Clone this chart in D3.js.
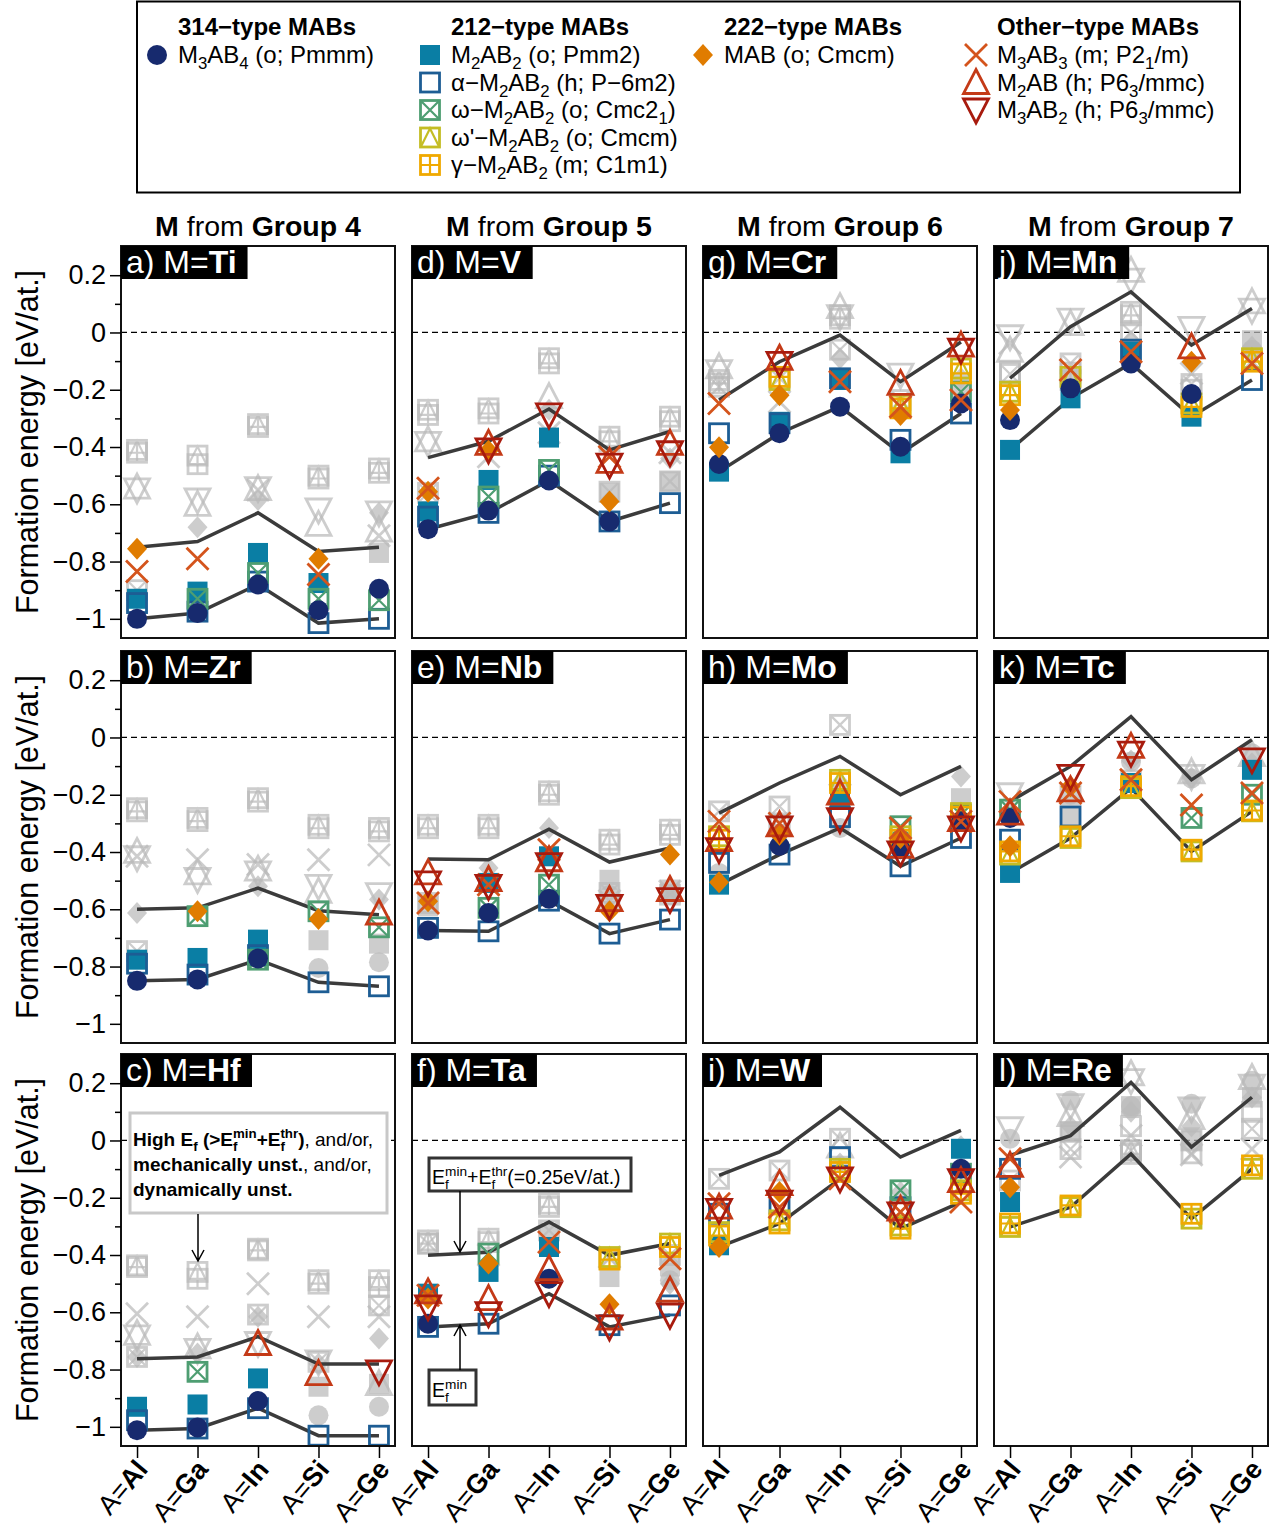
<!DOCTYPE html>
<html>
<head>
<meta charset="utf-8">
<script src="https://cdn.jsdelivr.net/npm/d3@7"></script>
<style>
body { margin: 0; background: #fff; }
text { font-family: "Liberation Sans", Arial, Helvetica, sans-serif; }
</style>
</head>
<body>
<svg id="chart" width="1273" height="1530"></svg>
<script>
// categories
var anions = ["Al", "Ga", "In", "Si", "Ge"];
var metals = ["Ti", "Zr", "Hf", "V", "Nb", "Ta", "Cr", "Mo", "W", "Mn", "Tc", "Re"];
var letters = ["a", "b", "c", "d", "e", "f", "g", "h", "i", "j", "k", "l"];
var groups = ["Group 4", "Group 5", "Group 6", "Group 7"];
var yTicks = [-1, -0.8, -0.6, -0.4, -0.2, 0, 0.2];
var yMinor = [-0.9, -0.7, -0.5, -0.3, -0.1, 0.1];
var thr = 0.25;

// formation energies [eV/at.], one row per panel a..l, columns Al Ga In Si Ge
// mask: 1 = stable (coloured), 0 = unstable / high Ef (grey), - = not shown
var m314 = [
  [-1.0, -0.98, -0.88, -0.97, -0.895], [-0.85, -0.845, -0.772, -0.805, -0.785], [-1.012, -1.002, -0.91, -0.96, -0.93],
  [-0.687, -0.622, -0.517, -0.66, null], [-0.674, -0.613, -0.563, -0.55, -0.55], [-0.64, null, -0.483, null, -0.488],
  [-0.459, -0.352, -0.259, -0.399, -0.248], [-0.473, -0.378, -0.316, -0.39, -0.293], [null, null, null, null, -0.099],
  [-0.306, -0.195, -0.108, -0.215, -0.06], [-0.281, -0.2, -0.084, -0.143, -0.055], [0.006, 0.14, 0.12, 0.128, 0.209]];
var m314ok = ["11111", "11100", "11100", "1111-", "11100", "1-1-0", "11111", "01011", "----1", "11110", "10000", "00000"];

var m212o = [
  [-0.93, -0.905, -0.77, -0.875, -0.77], [-0.776, -0.77, -0.706, -0.708, -0.72], [-0.93, -0.922, -0.831, -0.86, -0.85],
  [-0.625, -0.515, -0.367, -0.56, -0.52], [-0.59, -0.508, -0.415, -0.497, -0.531], [-0.535, -0.459, -0.372, -0.477, -0.44],
  [-0.486, -0.312, -0.166, -0.422, -0.2], [-0.514, null, -0.217, null, -0.212], [-0.366, null, null, null, -0.029],
  [-0.41, -0.23, -0.067, -0.294, -0.027], [-0.473, -0.276, -0.159, null, -0.113], [-0.215, 0.03, 0.12, 0.0, 0.15]];
var m212ook = ["11110", "11100", "11100", "11100", "01100", "11100", "11110", "1-1-0", "1---1", "11110", "101-1", "10000"];

var m212a = [
  [-0.945, -0.975, -0.87, -1.015, -1.0], [-0.79, -0.828, -0.76, -0.855, -0.869], [-0.977, -1.006, -0.935, -1.031, -1.031],
  [-0.643, -0.63, -0.5, -0.66, -0.596], [-0.665, -0.677, -0.57, -0.685, -0.636], [-0.651, -0.64, null, -0.645, -0.576],
  [-0.352, -0.317, -0.16, -0.375, -0.283], [-0.438, -0.409, -0.278, -0.45, -0.351], [-0.256, -0.221, -0.058, -0.233, null],
  [-0.137, -0.14, -0.06, -0.2, -0.166], [-0.357, -0.276, null, null, null], [-0.099, 0.03, 0.05, 0.0, 0.1]];
var m212aok = ["11111", "11111", "11111", "11111", "11111", "11-11", "11111", "11111", "1111-", "00101", "11---", "10000"];

var m212w = [
  [-0.9, -0.93, -0.84, -0.93, -0.935], [-0.746, -0.624, -0.776, -0.607, -0.663], [-0.756, -0.808, -0.608, -0.773, -0.576],
  [-0.56, -0.573, -0.48, -0.556, -0.52], [-0.578, -0.595, -0.514, -0.543, -0.549], [-0.36, -0.395, -0.314, -0.413, -0.4],
  [-0.19, -0.16, -0.06, -0.236, -0.207], [-0.258, -0.241, 0.044, -0.31, -0.27], [-0.134, -0.105, 0.006, -0.174, -0.116],
  [-0.145, -0.108, 0.0, -0.18, -0.1], [-0.252, -0.2, -0.15, -0.281, -0.2], [-0.14, -0.03, -0.035, -0.045, 0.041]];
var m212wok = ["01111", "01111", "01000", "01100", "01100", "01000", "00001", "00011", "00011", "00000", "10011", "00000"];

var m212wp = [
  [-0.41, -0.43, -0.32, -0.5, -0.475], [-0.247, -0.281, -0.212, -0.305, -0.316], [-0.436, -0.459, -0.378, -0.488, -0.488],
  [-0.27, -0.265, -0.09, -0.364, -0.294], [-0.305, -0.305, -0.188, -0.357, -0.322], [-0.349, -0.343, -0.221, -0.407, -0.36],
  [-0.166, -0.166, 0.06, -0.253, -0.126], [-0.345, -0.3, -0.148, -0.345, -0.264], [-0.32, -0.279, -0.099, -0.297, -0.174],
  [-0.207, -0.155, 0.072, -0.248, -0.09], [-0.409, -0.351, -0.177, -0.398, -0.258], [-0.302, -0.233, -0.035, -0.273, -0.099]];
var m212wpok = ["00000", "00000", "00000", "00000", "00000", "00011", "01011", "10111", "11111", "11011", "11111", "11011"];

var m212g = [
  [-0.42, -0.46, -0.33, -0.51, -0.49], [-0.258, -0.292, -0.224, -0.317, -0.328], [-0.442, -0.483, -0.384, -0.5, -0.512],
  [-0.288, -0.283, -0.108, -0.38, -0.31], [-0.317, -0.317, -0.2, -0.374, -0.34], [-0.36, -0.355, -0.232, -0.416, -0.372],
  [-0.178, -0.155, 0.048, -0.265, -0.143], [-0.357, -0.306, -0.159, -0.357, -0.276], [-0.332, -0.29, -0.11, -0.308, -0.186],
  [-0.219, -0.166, 0.06, -0.26, -0.102], [-0.398, -0.345, -0.17, -0.392, -0.255], [-0.29, -0.227, -0.047, -0.256, -0.087]];
var m212gok = ["00000", "00000", "00000", "00000", "00000", "00011", "01011", "10111", "11111", "10011", "11111", "11011"];

var m222 = [
  [-0.755, -0.68, -0.585, -0.79, -0.63], [-0.613, -0.607, -0.52, -0.634, -0.566], [-0.756, -0.744, -0.616, -0.78, -0.692],
  [-0.556, -0.413, -0.27, -0.59, -0.44], [-0.572, -0.456, -0.316, -0.607, -0.409], [-0.552, -0.43, -0.314, -0.572, -0.5],
  [-0.401, -0.219, -0.09, -0.288, -0.16], [-0.506, -0.34, -0.16, -0.351, -0.136], [-0.372, -0.18, -0.08, -0.18, -0.02],
  [-0.271, -0.15, -0.03, -0.102, -0.05], [-0.38, -0.171, -0.08, -0.14, -0.09], [-0.163, 0.05, 0.1, 0.05, 0.15]];
var m222ok = ["10010", "01010", "00000", "11010", "10011", "11010", "11010", "11010", "11000", "10010", "11000", "10000"];

var m313 = [
  [-0.835, -0.79, -0.55, -0.845, -0.71], [-0.415, -0.427, -0.444, -0.427, -0.41], [-0.605, -0.616, -0.5, -0.616, -0.616],
  [-0.544, -0.434, -0.35, -0.434, -0.42], [-0.578, -0.514, -0.392, -0.57, -0.537], [-0.541, -0.4, -0.355, -0.407, -0.413],
  [-0.248, -0.242, -0.172, -0.259, -0.236], [-0.293, -0.3, -0.2, -0.316, -0.293], [-0.221, -0.233, -0.134, -0.25, -0.215],
  [-0.038, -0.131, -0.067, -0.143, -0.108], [-0.224, -0.194, -0.148, -0.236, -0.194], [-0.064, -0.058, 0.017, -0.05, -0.03]];
var m313ok = ["11010", "00000", "00000", "10010", "11100", "10101", "10111", "11011", "11111", "01101", "11111", "10000"];

var m21 = [
  [-0.54, -0.6, -0.545, -0.67, -0.69], [-0.398, -0.473, -0.46, -0.537, -0.613], [-0.674, -0.721, -0.709, -0.814, -0.849],
  [-0.375, -0.387, -0.224, -0.45, -0.387], [-0.473, -0.496, -0.427, -0.566, -0.531], [-0.529, -0.552, -0.448, -0.62, -0.523],
  [-0.12, -0.09, 0.09, -0.178, -0.044], [-0.357, -0.305, -0.194, -0.38, -0.287], [-0.233, -0.151, -0.02, -0.24, -0.14],
  [-0.062, 0.031, 0.217, -0.05, 0.107], [-0.264, -0.183, -0.031, -0.12, -0.06], [-0.087, 0.09, 0.233, 0.08, 0.22]];
var m21ok = ["00000", "00001", "00110", "01011", "11111", "11111", "01011", "11111", "11011", "00010", "11100", "10000"];

var m32 = [
  [-0.55, -0.585, -0.545, -0.62, -0.63], [-0.42, -0.496, -0.473, -0.52, -0.549], [-0.686, -0.733, -0.709, -0.773, -0.808],
  [-0.387, -0.41, -0.288, -0.463, -0.42], [-0.508, -0.52, -0.444, -0.59, -0.566], [-0.581, -0.605, -0.535, -0.651, -0.61],
  [-0.137, -0.108, 0.055, -0.149, -0.062], [-0.392, -0.316, -0.287, -0.403, -0.316], [-0.244, -0.215, -0.134, -0.256, -0.14],
  [-0.015, 0.043, 0.183, 0.014, 0.078], [-0.2, -0.136, -0.055, -0.136, -0.078], [0.041, 0.122, 0.209, 0.11, 0.19]];
var m32ok = ["00000", "00000", "00001", "01111", "11111", "11111", "01001", "11111", "11111", "00000", "01101", "00000"];

var structures = [
  { label: "M_{3}AB_{4} (o; Pmmm)", shape: "circle", color: "#172a6e", values: m314, ok: m314ok },
  { label: "M_{2}AB_{2} (o; Pmm2)", shape: "fsq", color: "#0a7ea4", values: m212o, ok: m212ook },
  { label: "α−M_{2}AB_{2} (h; P−6m2)", shape: "osq", color: "#1d5d94", values: m212a, ok: m212aok },
  { label: "ω−M_{2}AB_{2} (o; Cmc2_{1})", shape: "xsq", color: "#4e9e72", values: m212w, ok: m212wok },
  { label: "ω'−M_{2}AB_{2} (o; Cmcm)", shape: "tsq", color: "#c4bd24", values: m212wp, ok: m212wpok },
  { label: "γ−M_{2}AB_{2} (m; C1m1)", shape: "psq", color: "#f0a900", values: m212g, ok: m212gok },
  { label: "MAB (o; Cmcm)", shape: "diam", color: "#e07c00", values: m222, ok: m222ok },
  { label: "M_{3}AB_{3} (m; P2_{1}/m)", shape: "x", color: "#d4541c", values: m313, ok: m313ok },
  { label: "M_{2}AB (h; P6_{3}/mmc)", shape: "tup", color: "#c43a17", values: m21, ok: m21ok },
  { label: "M_{3}AB_{2} (h; P6_{3}/mmc)", shape: "tdn", color: "#a81b0e", values: m32, ok: m32ok }
];
var drawOrder = [1, 2, 3, 4, 5, 0, 6, 7, 8, 9];

var legendCols = [
  { title: "314−type MABs", x: 178, items: [0] },
  { title: "212−type MABs", x: 451, items: [1, 2, 3, 4, 5] },
  { title: "222−type MABs", x: 724, items: [6] },
  { title: "Other−type MABs", x: 997, items: [7, 8, 9] }
];

var grey = "#bababa";
var colX = [121, 412, 703, 994];
var rowY = [246, 651, 1054];
var pw = 274, ph = 392;

var svg = d3.select("#chart");

// small markup: _{sub} ^{sup}, ** toggles bold
function rich(sel, str, fs) {
  var parts = str.split(/(\*\*|_\{[^}]*\}|\^\{[^}]*\})/).filter(function(s) { return s !== ""; });
  var cur = 0, lastSub = null, bold = false;
  parts.forEach(function(p) {
    if (p === "**") { bold = !bold; return; }
    var kind = "n", t = p;
    if (p.indexOf("_{") === 0) { kind = "sub"; t = p.slice(2, -1); }
    else if (p.indexOf("^{") === 0) { kind = "sup"; t = p.slice(2, -1); }
    var target = kind === "sub" ? fs * 0.25 : kind === "sup" ? -fs * 0.4 : 0;
    var ts = sel.append("tspan").attr("dy", target - cur).text(t);
    if (kind !== "n") ts.attr("font-size", fs * 0.7);
    if (bold) ts.attr("font-weight", "bold");
    if (kind === "sup" && lastSub) ts.attr("dx", -lastSub.node().getComputedTextLength());
    lastSub = kind === "sub" ? ts : null;
    cur = target;
  });
}

function marker(g, shape, x, y, col, isGrey) {
  var c = isGrey ? grey : col;
  var m = g.append("g")
    .attr("transform", "translate(" + x + "," + y + ")")
    .attr("opacity", isGrey ? 0.72 : 1);
  var sw = 2.8;
  if (shape === "circle") {
    m.append("circle").attr("r", 10).attr("fill", c);
  } else if (shape === "fsq") {
    m.append("rect").attr("x", -10).attr("y", -10).attr("width", 20).attr("height", 20).attr("fill", c);
  } else if (shape === "diam") {
    m.append("path").attr("d", "M0,-11L10,0L0,11L-10,0Z").attr("fill", c);
  } else if (shape === "x") {
    m.append("path").attr("d", "M-11,-11L11,11M11,-11L-11,11").attr("stroke", c).attr("stroke-width", sw).attr("fill", "none");
  } else if (shape === "tup") {
    m.append("path").attr("d", "M0,-13L12.5,11L-12.5,11Z").attr("stroke", c).attr("stroke-width", sw).attr("fill", "none");
  } else if (shape === "tdn") {
    m.append("path").attr("d", "M0,13L12.5,-11L-12.5,-11Z").attr("stroke", c).attr("stroke-width", sw).attr("fill", "none");
  } else {
    m.append("rect").attr("x", -9.5).attr("y", -9.5).attr("width", 19).attr("height", 19)
      .attr("fill", "none").attr("stroke", c).attr("stroke-width", sw);
    var inner = { xsq: "M-9,-9L9,9M9,-9L-9,9", tsq: "M-9,9L0,-9L9,9", psq: "M0,-9V9M-9,0H9" }[shape];
    if (inner) m.append("path").attr("d", inner).attr("stroke", c).attr("stroke-width", 2.2).attr("fill", "none");
  }
}

// legend
svg.append("rect").attr("x", 137).attr("y", 1.5).attr("width", 1103).attr("height", 191)
  .attr("fill", "none").attr("stroke", "#000").attr("stroke-width", 2);
legendCols.forEach(function(lc) {
  svg.append("text").attr("x", lc.x).attr("y", 35).attr("font-size", 24).attr("font-weight", "bold").text(lc.title);
  lc.items.forEach(function(si, k) {
    var s = structures[si];
    var cy = 55 + k * 27.5;
    marker(svg, s.shape, lc.x - 21, cy, s.color, false);
    var t = svg.append("text").attr("x", lc.x).attr("y", cy + 8).attr("font-size", 24);
    rich(t, s.label, 24);
  });
});

var x = d3.scaleLinear().domain([0.735, 5.265]).range([0, pw]);
var y = d3.scaleLinear().domain([-1.067, 0.302]).range([ph, 0]);

metals.forEach(function(metal, p) {
  var col = Math.floor(p / 3), row = p % 3;
  var g = svg.append("g").attr("transform", "translate(" + colX[col] + "," + rowY[row] + ")");

  g.append("line").attr("x1", 0).attr("x2", pw).attr("y1", y(0)).attr("y2", y(0))
    .attr("stroke", "#000").attr("stroke-width", 1.3).attr("stroke-dasharray", "6,4");

  // grey (unstable) markers first
  structures.forEach(function(s) {
    s.values[p].forEach(function(v, i) {
      if (v !== null && s.ok[p][i] === "0") marker(g, s.shape, x(i + 1), y(v), s.color, true);
    });
  });

  // Ef min and Ef min + threshold lines
  var efMin = anions.map(function(a, i) {
    return d3.min(structures, function(s) { return s.values[p][i]; });
  });
  var line = d3.line().x(function(d, i) { return x(i + 1); }).y(function(d) { return y(d); });
  g.append("path").datum(efMin).attr("d", line).attr("fill", "none").attr("stroke", "#3b3b3b").attr("stroke-width", 3.5);
  g.append("path").datum(efMin.map(function(v) { return v + thr; })).attr("d", line)
    .attr("fill", "none").attr("stroke", "#3b3b3b").attr("stroke-width", 3.5);

  drawOrder.forEach(function(si) {
    var s = structures[si];
    s.values[p].forEach(function(v, i) {
      if (v !== null && s.ok[p][i] === "1") marker(g, s.shape, x(i + 1), y(v), s.color, false);
    });
  });

  g.append("rect").attr("width", pw).attr("height", ph).attr("fill", "none").attr("stroke", "#111").attr("stroke-width", 2);

  // panel label
  var labBox = g.append("rect").attr("x", 0).attr("y", 0).attr("height", 33).attr("fill", "#000");
  var lab = g.append("text").attr("x", 5).attr("y", 27).attr("font-size", 32).attr("fill", "#fff");
  rich(lab, letters[p] + ") M=**" + metal + "**", 32);
  labBox.attr("width", lab.node().getBBox().width + 16);

  if (col === 0) {
    var ya = g.append("g")
      .call(d3.axisLeft(y).tickValues(yTicks).tickSize(11).tickPadding(4).tickFormat(d3.format("")));
    ya.select(".domain").remove();
    ya.selectAll("text").attr("font-size", 27).attr("font-family", "Liberation Sans, Arial, sans-serif").attr("fill", "#000");
    ya.selectAll("line").attr("stroke-width", 1.5);
    var minor = g.append("g").call(d3.axisLeft(y).tickValues(yMinor).tickSize(6).tickFormat(""));
    minor.select(".domain").remove();
    minor.selectAll("line").attr("stroke-width", 1.5);

    g.append("text").attr("transform", "translate(-83," + ph / 2 + ") rotate(-90)")
      .attr("text-anchor", "middle").attr("font-size", 30.5).text("Formation energy [eV/at.]");
  }
  if (row === 0) {
    var ct = svg.append("text").attr("x", colX[col] + pw / 2).attr("y", 236).attr("text-anchor", "middle").attr("font-size", 28.5);
    rich(ct, "**M** from **" + groups[col] + "**", 28.5);
  }
  if (row === 2) {
    var xa = g.append("g").attr("transform", "translate(0," + ph + ")")
      .call(d3.axisBottom(x).tickValues([1, 2, 3, 4, 5]).tickSize(12).tickFormat(""));
    xa.select(".domain").remove();
    xa.selectAll("line").attr("stroke-width", 1.5);
    anions.forEach(function(a, i) {
      var tx = x(i + 1) + 12, ty = ph + 24;
      var t = g.append("text").attr("transform", "translate(" + tx + "," + ty + ") rotate(-50)")
        .attr("text-anchor", "end").attr("font-size", 27);
      rich(t, "A=**" + a + "**", 27);
    });
  }

  // annotations
  if (metal === "Hf") {
    g.append("rect").attr("x", 9).attr("y", 59).attr("width", 257).attr("height", 100)
      .attr("fill", "#fff").attr("stroke", "#c8c8c8").attr("stroke-width", 3);
    var lines = ["**High E_{f} (>E_{f}^{min}+E_{f}^{thr})**, and/or,", "**mechanically unst.**, and/or,", "**dynamically unst.**"];
    lines.forEach(function(L, k) {
      var t = g.append("text").attr("x", 12).attr("y", 92 + k * 25).attr("font-size", 19);
      rich(t, L, 19);
    });
    g.append("path").attr("d", "M77,160V207M71,196L77,207L83,196").attr("stroke", "#000").attr("stroke-width", 1.5).attr("fill", "none");
  }
  if (metal === "Ta") {
    g.append("rect").attr("x", 17).attr("y", 104).attr("width", 202).attr("height", 33)
      .attr("fill", "#fff").attr("stroke", "#333").attr("stroke-width", 3);
    var t1 = g.append("text").attr("x", 20).attr("y", 130).attr("font-size", 19.5);
    rich(t1, "E_{f}^{min}+E_{f}^{thr}(=0.25eV/at.)", 19.5);
    g.append("path").attr("d", "M48,137V198M42,187L48,198L54,187").attr("stroke", "#000").attr("stroke-width", 1.5).attr("fill", "none");
    g.append("rect").attr("x", 17).attr("y", 316).attr("width", 47).attr("height", 35)
      .attr("fill", "#fff").attr("stroke", "#333").attr("stroke-width", 3);
    var t2 = g.append("text").attr("x", 20).attr("y", 343).attr("font-size", 19.5);
    rich(t2, "E_{f}^{min}", 19.5);
    g.append("path").attr("d", "M48,316V271M42,282L48,271L54,282").attr("stroke", "#000").attr("stroke-width", 1.5).attr("fill", "none");
  }
});
</script>
</body>
</html>
